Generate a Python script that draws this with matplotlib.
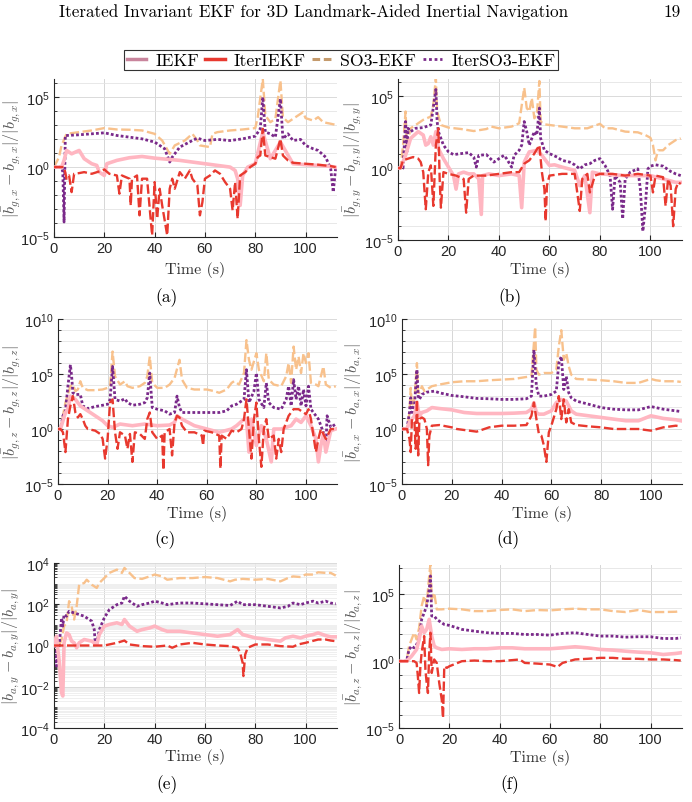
import numpy as np
import matplotlib.pyplot as plt
from matplotlib.lines import Line2D
from matplotlib.ticker import FixedLocator, LogLocator, LogFormatterMathtext, NullFormatter

plt.rcParams['font.family'] = 'Liberation Sans'
plt.rcParams['mathtext.fontset'] = 'cm'
plt.rcParams['axes.unicode_minus'] = False

# each series: (time in s, log10 of relative bias error)
# (a) gyro bias x
a_iekf = [(0, 0), (3, 0), (4, 0.48), (5, 1.19), (7, 0.95), (10, 1.19), (12, 0.6), (15, 0.24), (17, 0.12),
          (18, -0.36), (20, -0.6), (21, 0.24), (25, 0.48), (30, 0.67), (35, 0.76), (40, 0.64), (50, 0.48),
          (60, 0.24), (70, 0), (72, -0.24), (73, -0.83), (74, -2.74), (75, -0.6), (77, 0), (80, 0.24),
          (83, 2.5), (86, 0.6), (90, 1.79), (95, 0.24), (100, 0.17), (105, 0.12), (110, 0.05), (112, -0.02)]
a_iter_iekf = [(0, 0), (4, 0), (5, -0.83), (6, -0.6), (7, -1.79), (8, -0.48), (10, -0.43), (12, -0.36),
               (15, -0.48), (18, -0.31), (20, -0.17), (22, -0.48), (25, -0.6), (26, -1.9), (27, -0.6),
               (30, -0.83), (30.5, -2.74), (31, -0.83), (33, -0.6), (34, -3.45), (35, -0.83), (37, -0.83),
               (39, -4.88), (40, -1.07), (41, -3.69), (42, -1.55), (43, -2.74), (45, -4.88), (46, -1.55),
               (47, -0.83), (48, -1.55), (50, -0.36), (52, -0.83), (54, -0.24), (55, -0.83), (57, -1.31),
               (58, -3.45), (59, -2.5), (60, -0.83), (62, -0.6), (64, -0.24), (66, -0.48), (68, -1.07),
               (70, -1.55), (71, -3.1), (72, -1.07), (73, -3.69), (74, -0.6), (76, -0.36), (78, 0), (80, 0.24),
               (81, 0.71), (82, 0.83), (83, 2.74), (84, 0.83), (86, 0.71), (88, 0.6), (90, 2.02), (91, 0.83),
               (93, 0.48), (95, 0.31), (100, 0.24), (105, 0.17), (110, 0.07), (112, 0)]
a_so3 = [(0, 0), (2, 0.71), (3, 1.55), (5, 2.38), (10, 2.5), (15, 2.62), (20, 2.79), (25, 2.69), (30, 2.67),
         (35, 2.62), (40, 2.38), (43, 1.9), (46, 0.95), (48, 1.55), (52, 1.9), (55, 2.38), (57, 1.9), (58, 1.55),
         (62, 1.43), (63, 2.38), (65, 2.5), (70, 2.62), (75, 2.69), (80, 2.79), (81, 3.57), (83, 6.3), (84, 3.69),
         (86, 3.21), (88, 3.45), (90, 6.2), (91, 3.57), (93, 3.21), (95, 3.45), (99, 3.93), (100, 3.5),
         (103, 3.33), (105, 3.57), (107, 3.21), (110, 3.1), (112, 3.02)]
a_iter_so3 = [(0, 0), (3, 0), (3.5, -0.36), (4, -3.93), (4.5, 2.26), (5, 2.26), (10, 2.31), (15, 2.38), (20, 2.45),
              (25, 2.26), (30, 2.14), (35, 2.02), (40, 1.79), (44, 1.31), (46, 0.36), (47, 0.71), (50, 1.43),
              (55, 1.9), (57, 2.07), (60, 1.9), (65, 1.98), (70, 1.9), (75, 2.02), (80, 2.21), (82, 2.74), (83, 5.0),
              (84, 2.5), (86, 2.38), (88, 2.14), (90, 4.88), (91, 2.02), (93, 2.38), (95, 1.9), (98, 1.98),
              (100, 1.55), (103, 1.31), (105, 1.19), (108, 0.71), (110, -0.12), (111, -1.79), (112, 0)]

# (b) gyro bias y
b_iekf = [(0, 0), (1, 0), (3, 0.89), (5, 2.07), (8, 2.54), (10, 2.3), (11, 1.6), (12, 1.71), (13, 2.18), (14, 1.6),
          (15, 2.54), (16, 1.36), (18, 0.66), (20, 0.07), (22, -0.52), (23, -1.46), (24, -0.4), (26, -0.28),
          (28, -0.4), (30, -0.4), (32, -0.75), (33, -3.22), (33.5, -0.52), (36, -0.4), (40, -0.52), (45, -0.4),
          (48, -0.52), (49, -2.75), (50, 0.42), (52, 1.13), (55, 1.24), (57, 0.89), (60, 0.19), (62, 0.23),
          (65, 0.07), (70, -0.16), (72, -1.22), (74, -0.52), (76, -3.1), (77, -0.28), (80, -0.4), (90, -0.52),
          (100, -0.52), (105, -0.75), (110, -0.99), (112, -0.99)]
b_iter_iekf = [(0, 0), (1, 0), (2, 0.54), (4, 0.66), (6, 0.77), (8, 0.66), (9, 0.42), (10, -0.28), (11, -2.86),
               (12, -0.28), (13, 0.19), (14, -2.63), (15, 1.6), (16, 2.77), (16.5, -0.75), (17, -2.75), (18, -0.28),
               (20, -0.4), (23, -0.52), (26, -0.75), (27, -3.1), (28, -0.75), (30, -0.52), (35, -0.52), (40, -0.4),
               (45, -0.28), (48, -0.28), (50, 0.31), (52, 0.54), (54, 1.01), (56, 1.6), (57, -0.28), (58, -1.46),
               (58.5, -3.69), (59, -1.22), (60, -0.52), (65, -0.4), (70, -0.4), (71, -1.69), (72, -2.98),
               (73, -0.75), (75, -0.4), (76, -1.69), (78, -0.52), (80, -0.4), (85, -0.4), (90, -0.52), (95, -0.4),
               (100, -0.52), (101, -1.69), (102, -0.52), (105, -0.63), (106, -2.63), (107, -0.75), (108, -1.22),
               (109, -4.04), (110, -1.46), (111, -0.99), (112, -1.1)]
b_so3 = [(0, 0), (1, 0), (2, 1.6), (3, 3.94), (3.5, 1.6), (5, 2.77), (8, 3.12), (10, 3.36), (13, 3.59), (14, 4.41),
         (15, 6.29), (15.5, 3.94), (17, 3.0), (20, 2.82), (25, 2.72), (30, 2.58), (35, 2.72), (37, 2.89), (40, 2.77),
         (45, 2.89), (48, 3.12), (50, 5.59), (51, 4.18), (52, 3.94), (53, 4.88), (54, 3.47), (55, 3.71), (56, 6.06),
         (56.5, 3.24), (58, 3.05), (60, 3.0), (65, 2.89), (70, 2.77), (75, 2.77), (80, 3.08), (82, 2.77),
         (85, 2.77), (90, 2.54), (95, 2.49), (98, 2.3), (100, 2.11), (101, 1.6), (102, 0.54), (103, 1.24),
         (105, 1.24), (107, 1.6), (110, 1.95), (112, 2.07)]
b_iter_so3 = [(0, 0), (2, 0), (3, 3.24), (3.5, 1.13), (4, 2.77), (5, 2.54), (7, 2.77), (10, 2.82), (13, 3.0),
              (15, 5.47), (15.5, 3.24), (16, 2.54), (18, 1.6), (20, 1.13), (22, 0.94), (25, 1.01), (28, 1.08),
              (30, 0.77), (31, 0.07), (32, 0.89), (35, 0.94), (38, 0.42), (40, 0.66), (42, 0.89), (43, 0.66),
              (45, 0.07), (46, 0.89), (48, 1.24), (49, 1.6), (50, 3.24), (51, 2.54), (52, 1.6), (53, 2.07),
              (54, 2.54), (55, 2.3), (56, 4.18), (56.5, 2.07), (58, 1.24), (60, 1.01), (63, 0.77), (65, 0.54),
              (68, 0.42), (70, 0.23), (72, -0.05), (74, 0.23), (76, 0.31), (78, 0.54), (80, 0.66), (82, 0.19),
              (84, -0.52), (85, -2.86), (86, -0.52), (88, -0.99), (89, -3.52), (90, -0.75), (92, -0.28),
              (95, -0.05), (96, -1.46), (97, -4.39), (98, -2.63), (99, -0.05), (100, 0.14), (102, 0.23),
              (105, 0.14), (108, -0.23), (110, -0.4), (112, -0.52)]

# (c) gyro bias z
c_iekf = [(0, 0), (1, 0), (3, 1.5), (4, 1.8), (5, 2.99), (6, 2.84), (7, 2.69), (9, 2.1), (10, 1.95), (15, 1.2),
          (18, 0.75), (20, 0.3), (22, 0.15), (25, 0.45), (30, 0.3), (35, 0.45), (40, 0.3), (45, 0.36), (47, 0.6),
          (48, 1.2), (50, 0.9), (55, 0.3), (60, 0), (65, -0.3), (70, 0), (72, 0.3), (75, 0.9), (76, 0.9),
          (77, -2.1), (78, 0.9), (80, -1.5), (82, 0.3), (84, -0.9), (86, -2.99), (87, 0), (90, 0), (94, 0.3),
          (96, 0.9), (98, 0.6), (100, 1.2), (102, 0.3), (104, -0.9), (105, -2.99), (106, -1.5), (107, -0.45),
          (108, -2.1), (110, -0.15), (112, 0)]
c_iter_iekf = [(0, 0), (1, 0), (2, -0.3), (3, -2.1), (4, 0.9), (5, 2.1), (6, 2.99), (7, 1.5), (8, 1.05), (9, 1.35),
               (10, 0.9), (11, 0.3), (12, 0), (15, -0.15), (17, -0.45), (18, -0.9), (19, -2.69), (20, -0.9),
               (21, 2.4), (22, 2.69), (23, -0.3), (24, -1.8), (25, -0.3), (27, -0.6), (28, -1.8), (29, -0.45),
               (30, -2.99), (31, -0.3), (33, -0.45), (35, -0.9), (36, 0.9), (37, 1.5), (38, -0.3), (40, -0.9),
               (42, -0.6), (42.5, -3.74), (43, -0.3), (45, 0), (46, -2.4), (47, 0.6), (48, 1.2), (49, 1.05),
               (50, 0.3), (52, -0.3), (55, -0.3), (58, -0.6), (58.5, -1.5), (59, -0.15), (62, -0.3), (65, -0.6),
               (65.5, -3.59), (66, -0.6), (68, -0.9), (70, -0.15), (72, -0.3), (74, 0), (75, 0.9), (76, 2.69),
               (77, 0), (78, -2.69), (79, 0.9), (80, 2.4), (81, -0.9), (82, -3.44), (83, 0), (84, 0.9), (85, -0.9),
               (87, -0.6), (88, -2.69), (89, -0.9), (90, -2.1), (91, 0), (93, 1.2), (95, 1.8), (97, 1.8), (99, 1.5),
               (100, 1.35), (101, 1.8), (102, 0.9), (103, -0.6), (104, -2.1), (105, -0.9), (106, 0), (108, -0.9),
               (110, 0), (112, 0)]
c_so3 = [(0, 0), (1, 0), (2, 1.2), (3, 2.4), (5, 3.89), (6, 4.04), (7, 3.44), (8, 3.59), (9, 4.34), (10, 3.74),
         (12, 3.53), (15, 3.53), (18, 3.59), (20, 3.74), (21, 3.89), (22, 7.04), (23, 4.79), (25, 4.04), (27, 4.34),
         (28, 3.89), (30, 3.74), (33, 3.89), (35, 4.19), (36, 4.79), (37, 6.59), (38, 4.19), (40, 3.74), (43, 3.74),
         (45, 4.04), (47, 4.64), (49, 6.29), (50, 4.49), (52, 3.74), (55, 3.59), (60, 3.59), (63, 3.44), (65, 3.29),
         (68, 3.59), (70, 4.19), (71, 4.34), (73, 4.04), (75, 5.09), (76, 8.08), (77, 6.29), (78, 5.39), (80, 6.89),
         (81, 5.39), (83, 4.34), (84, 6.89), (85, 4.49), (87, 4.04), (90, 3.89), (92, 4.79), (93, 5.99), (94, 4.19),
         (95, 7.49), (96, 5.39), (97, 6.59), (98, 5.09), (99, 6.89), (100, 5.99), (101, 6.89), (102, 4.19),
         (104, 4.04), (105, 3.89), (107, 5.69), (108, 4.04), (110, 3.74), (112, 3.89)]
c_iter_so3 = [(0, 0), (1, 0), (2, 1.2), (3, 1.65), (4, 3.89), (5, 5.84), (5.5, 4.79), (6, 3.29), (7, 3.14), (9, 3.14),
              (10, 2.1), (12, 1.86), (15, 2.04), (18, 2.16), (20, 2.25), (21, 2.69), (22, 5.69), (23, 2.69),
              (25, 2.54), (27, 2.75), (28, 2.4), (30, 2.16), (33, 2.25), (35, 2.4), (36, 2.84), (37, 5.09), (38, 1.95),
              (40, 1.8), (43, 1.65), (45, 1.35), (47, 1.5), (48, 2.99), (49, 1.95), (50, 1.5), (55, 1.5), (60, 1.5),
              (65, 1.5), (68, 1.65), (70, 2.1), (72, 2.25), (75, 2.69), (76, 5.39), (77, 2.4), (79, 3.44), (80, 5.09),
              (81, 2.69), (83, 1.95), (84, 4.19), (85, 2.4), (87, 1.95), (90, 1.8), (92, 2.69), (93, 3.89), (94, 2.1),
              (95, 4.49), (96, 2.69), (97, 3.89), (98, 2.1), (99, 3.59), (100, 2.1), (101, 3.89), (102, 1.8),
              (104, 1.2), (105, 0.9), (107, -0.3), (108, -1.8), (108.5, 1.2), (110, 0.15), (112, 0.45)]

# (d) accel bias x
d_iekf = [(0, 0), (2, 0), (3, 0.6), (5, 1.2), (6, 2.4), (7, 1.2), (8, 1.5), (10, 1.65), (12, 1.95), (15, 1.86),
          (20, 1.74), (25, 1.5), (30, 1.41), (35, 1.41), (40, 1.41), (45, 1.44), (50, 1.5), (52, 1.8), (53, 2.4),
          (54, 1.5), (55, 1.35), (57, 1.35), (60, 1.65), (62, 2.4), (64, 2.69), (66, 2.54), (68, 1.65), (70, 1.35),
          (75, 1.2), (80, 1.05), (85, 0.9), (90, 0.75), (95, 0.75), (100, 1.2), (105, 0.96), (110, 0.84),
          (112, 0.75)]
d_iter_iekf = [(0, 0), (2, 0), (3, -0.9), (3.5, -2.1), (4, 0.9), (5, 0.6), (5.5, -1.8), (6, 2.69), (6.5, -2.4),
               (7, 0.9), (8, 1.05), (9, 0.9), (10, 0), (10.5, -3.29), (11, -0.6), (12, 0.3), (15, 0.36), (20, 0.15),
               (22, 0), (25, -0.09), (30, -0.24), (35, 0.15), (40, 0.3), (45, 0.3), (50, 0.36), (52, 1.2), (53, 2.4),
               (54, 0.9), (55, -0.45), (56, -0.6), (57, -1.5), (58, -2.99), (59, -0.3), (60, 0.3), (62, 1.8),
               (63, 2.99), (64, 0.9), (65, 2.69), (66, 0.6), (67, 1.8), (68, 0.6), (70, 0.36), (75, 0.24), (80, 0.15),
               (85, 0), (90, 0), (95, 0), (100, -0.15), (105, 0.15), (110, 0.3), (112, 0.24)]
d_so3 = [(0, 0), (2, 0), (3, 1.5), (3.5, 3.74), (4, 2.1), (5, 2.69), (6, 5.99), (6.5, 3.29), (7, 3.29), (8, 3.89),
         (9, 3.44), (10, 3.59), (12, 3.89), (15, 4.04), (20, 4.25), (25, 4.34), (30, 4.34), (35, 4.43), (40, 4.49),
         (45, 4.55), (50, 4.73), (52, 4.79), (53, 7.78), (53.5, 9.28), (54, 5.39), (55, 4.94), (57, 5.09), (60, 5.09),
         (62, 5.39), (63, 7.49), (64, 8.98), (65, 6.29), (66, 6.89), (67, 5.69), (68, 4.94), (70, 4.55), (75, 4.49),
         (80, 4.43), (85, 4.34), (90, 4.19), (95, 4.19), (100, 4.55), (102, 4.43), (105, 4.34), (110, 4.34),
         (112, 4.28)]
d_iter_so3 = [(0, 0), (2, 0), (3, 1.5), (3.5, 2.84), (4, 1.5), (5, 2.1), (6, 5.39), (6.5, 2.99), (7, 2.69), (8, 3.14),
              (10, 3.35), (13, 3.44), (15, 3.29), (20, 3.05), (25, 2.93), (30, 2.78), (35, 2.75), (40, 2.69),
              (45, 2.69), (50, 2.75), (52, 2.99), (53, 7.19), (54, 3.89), (55, 2.99), (57, 2.99), (60, 3.14),
              (62, 3.44), (63, 5.99), (64, 6.59), (65, 3.59), (66, 4.79), (67, 3.29), (68, 2.84), (70, 2.54),
              (75, 2.25), (80, 1.95), (85, 1.8), (90, 1.74), (95, 1.74), (100, 2.04), (105, 1.8), (110, 1.65),
              (112, 1.59)]

# (e) accel bias y
e_iekf = [(0, 0), (1, 0.45), (1.5, -0.19), (2, -0.68), (3, -2.29), (3.5, -2.45), (4, 0.13), (5, 0.61), (6, 0.53),
          (7, 0.21), (8, 0.13), (9, -0.11), (10, 0.13), (12, 0.29), (15, 0.21), (17, 0.05), (18, 0.53), (20, 0.94),
          (22, 1.02), (25, 1.1), (27, 1.02), (28, 1.26), (30, 0.94), (33, 0.69), (35, 0.77), (38, 0.85), (40, 0.94),
          (43, 0.77), (45, 0.69), (50, 0.69), (55, 0.61), (60, 0.53), (65, 0.45), (70, 0.53), (73, 0.77),
          (75, 0.53), (80, 0.37), (85, 0.29), (90, 0.21), (92, 0.37), (95, 0.45), (98, 0.37), (100, 0.45),
          (103, 0.53), (105, 0.61), (108, 0.48), (110, 0.42), (112, 0.42)]
e_iter_iekf = [(0, 0), (5, 0), (10, 0), (15, 0), (20, 0), (25, 0.13), (28, 0.24), (30, 0.05), (35, -0.03),
               (40, -0.06), (45, 0), (47, -0.11), (50, 0.05), (55, 0.13), (60, 0.05), (65, 0), (70, -0.03),
               (73, -0.11), (74, -0.35), (75, -0.84), (75.3, -1.48), (76, -0.44), (77, -0.11), (80, 0.05),
               (85, 0.05), (90, -0.03), (95, -0.06), (97, 0.05), (100, 0.13), (105, 0.29), (108, 0.29),
               (110, 0.24), (112, 0.21)]
e_so3 = [(0, 0), (1, 0.29), (2, 0), (3, 0.29), (4, 0.94), (5, 1.1), (6, 2.15), (7, 1.9), (8, 1.26), (9, 1.9),
         (10, 2.95), (12, 3.03), (13, 3.19), (15, 2.95), (17, 2.79), (18, 3.03), (20, 3.27), (22, 3.52), (25, 3.68),
         (27, 3.52), (28, 3.76), (30, 3.52), (32, 3.27), (35, 3.23), (38, 3.35), (40, 3.44), (43, 3.35), (45, 3.19),
         (50, 3.27), (55, 3.27), (60, 3.32), (65, 3.27), (70, 3.11), (72, 3.19), (75, 3.23), (80, 3.19), (85, 3.23),
         (90, 3.11), (93, 3.27), (95, 3.35), (98, 3.32), (100, 3.44), (103, 3.44), (105, 3.55), (108, 3.52),
         (110, 3.52), (112, 3.39)]
e_iter_so3 = [(0, 0), (1, -1.0), (1.5, 0), (2, -0.11), (3, 1.34), (3.5, 0.94), (4, 1.5), (5, 1.42), (6, 1.66),
              (8, 1.58), (10, 1.5), (12, 1.42), (15, 1.18), (16, 0.77), (16.5, -0.03), (17, 0.05), (18, 0.77),
              (20, 1.34), (22, 1.74), (25, 1.98), (27, 2.06), (28, 2.39), (30, 2.15), (33, 1.9), (35, 1.98),
              (38, 2.06), (40, 2.15), (43, 2.06), (45, 1.98), (50, 2.06), (55, 2.06), (60, 2.02), (65, 1.98),
              (70, 1.94), (73, 2.15), (75, 1.98), (80, 1.98), (85, 1.9), (90, 1.82), (93, 1.9), (95, 2.06),
              (98, 1.98), (100, 2.06), (103, 2.15), (105, 2.06), (108, 2.15), (110, 2.06), (112, 2.02)]

# (f) accel bias z
f_iekf = [(0, 0), (3, 0), (5, 0.38), (7, 0.88), (8, 1.63), (9, 2.63), (10, 2.13), (11, 2.38), (12, 3.13), (13, 1.88),
          (14, 1.13), (15, 1.0), (17, 0.88), (20, 0.93), (25, 0.88), (30, 0.93), (35, 0.93), (40, 1.0), (45, 1.0),
          (50, 0.93), (55, 0.93), (60, 0.93), (65, 1.0), (70, 1.08), (75, 1.0), (80, 0.88), (85, 0.83), (90, 0.75),
          (95, 0.68), (100, 0.63), (105, 0.5), (110, 0.58), (112, 0.63)]
f_iter_iekf = [(0, 0), (6, 0), (7, -0.13), (7.5, -1.13), (8, -2.38), (8.5, -0.38), (9, 0.63), (10, 1.88),
               (10.5, -0.63), (11, -1.63), (11.5, -2.38), (12, 0.63), (12.5, 2.13), (13, -0.88), (14, 0.13),
               (15, -0.13), (16, -1.63), (17, -2.88), (17.5, -4.25), (18, -0.38), (19, -0.5), (20, -0.38),
               (25, 0), (30, 0.05), (35, 0), (40, 0), (45, 0.08), (48, 0.13), (50, -0.13), (55, -0.18), (60, -0.25),
               (63, -0.43), (65, -0.13), (70, 0.13), (75, 0.18), (80, 0.25), (85, 0.25), (90, 0.18), (95, 0.18),
               (100, 0.13), (105, 0.13), (110, 0.08), (112, 0.05)]
f_so3 = [(0, 0), (3, 0), (4, 1.13), (5, 1.63), (6, 2.13), (7, 1.63), (8, 2.5), (9, 4.13), (10, 4.88), (11, 4.25),
         (12, 6.38), (12.5, 7.25), (13, 4.63), (14, 5.13), (15, 3.88), (17, 3.88), (20, 3.93), (25, 3.88),
         (30, 3.75), (35, 3.75), (40, 3.83), (45, 3.88), (50, 3.75), (55, 3.83), (60, 3.8), (65, 3.88), (70, 3.93),
         (75, 3.88), (80, 3.88), (85, 3.75), (90, 3.68), (95, 3.83), (100, 3.68), (105, 3.68), (110, 3.7),
         (112, 3.75)]
f_iter_so3 = [(0, 0), (3, 0), (4, 0.88), (5, 1.13), (6, 1.0), (7, 1.25), (8, 1.63), (9, 3.13), (10, 3.63), (11, 4.13),
              (12, 5.38), (12.5, 6.38), (13, 3.38), (14, 3.38), (15, 3.13), (18, 2.75), (20, 2.68), (25, 2.38),
              (30, 2.25), (35, 2.13), (40, 2.08), (45, 2.08), (50, 2.0), (55, 2.0), (60, 1.95), (65, 2.08),
              (70, 2.13), (75, 2.0), (80, 1.88), (85, 1.88), (90, 1.8), (95, 1.83), (100, 1.83), (105, 1.7),
              (110, 1.7), (112, 1.75)]

filters = ['IEKF', 'IterIEKF', 'SO3-EKF', 'IterSO3-EKF']
ylabels = [r'$|\bar{b}_{g,x}-b_{g,x}|/|b_{g,x}|$', r'$|\bar{b}_{g,y}-b_{g,y}|/|b_{g,y}|$',
           r'$|\bar{b}_{g,z}-b_{g,z}|/|b_{g,z}|$', r'$|\bar{b}_{a,x}-b_{a,x}|/|b_{a,x}|$',
           r'$|\bar{b}_{a,y}-b_{a,y}|/|b_{a,y}|$', r'$|\bar{b}_{a,z}-b_{a,z}|/|b_{a,z}|$']
captions = ['(a)', '(b)', '(c)', '(d)', '(e)', '(f)']
panels = [(a_iekf, a_iter_iekf, a_so3, a_iter_so3), (b_iekf, b_iter_iekf, b_so3, b_iter_so3),
          (c_iekf, c_iter_iekf, c_so3, c_iter_so3), (d_iekf, d_iter_iekf, d_so3, d_iter_so3),
          (e_iekf, e_iter_iekf, e_so3, e_iter_so3), (f_iekf, f_iter_iekf, f_so3, f_iter_so3)]

W, H = 692, 803
# axes boxes in pixels: left, top, right, bottom
boxes = [(54, 80, 337, 238), (398, 80, 682, 241), (58, 320, 337, 485),
         (402, 320, 682, 485), (54, 564, 337, 729), (399, 566, 682, 729)]
ylims = [(1e-5, 10**6.3), (1e-5, 10**6.2), (1e-5, 1e10), (1e-5, 1e10), (1e-4, 1e4), (1e-5, 10**7.2)]
ylab_x = [22, 363, 22, 364, 21, 364]      # right edge of the rotated y label
xlab_gap = [24, 21, 21, 21, 20, 21]       # gap from axis to top of the x label
cap_pos = [(167, 298), (510, 298), (165, 540), (508, 540), (167, 785), (510, 785)]

line_colors = ['#ffb6c1', '#e8392f', '#f8c18c', '#7a2a8a']
line_styles = ['-', (0, (4, 1.5)), (0, (4, 1.5)), (0, (1, 0.8))]
line_widths = [2.6, 1.7, 1.7, 2.0]
zorders = [3, 4, 1, 2]

fig = plt.figure(figsize=(W / 100, H / 100), dpi=100)

for i, (series, box) in enumerate(zip(panels, boxes)):
    l, t, r, b = box
    ax = fig.add_axes([l / W, 1 - b / H, (r - l) / W, (b - t) / H])
    for k in [2, 3, 0, 1]:
        tt, vv = np.array(series[k]).T
        ax.plot(tt, 10.0 ** vv, color=line_colors[k], ls=line_styles[k], lw=line_widths[k],
                zorder=zorders[k])
    ax.set_yscale('log')
    ax.set_xlim(0, 112.5)
    ax.set_ylim(*ylims[i])
    ax.set_xticks([0, 20, 40, 60, 80, 100])
    lo, hi = np.log10(ylims[i])
    if i == 4:
        ax.yaxis.set_major_locator(FixedLocator([1e-4, 1e-2, 1e0, 1e2, 1e4]))
        ax.yaxis.set_minor_locator(LogLocator(base=10, subs=np.arange(1, 10), numticks=30))
        minor_grid = '#ececec'
    else:
        ax.yaxis.set_major_locator(FixedLocator([10.0 ** p for p in [-5, 0, 5, 10] if p <= hi]))
        ax.yaxis.set_minor_locator(FixedLocator([10.0 ** p for p in range(-5, int(hi) + 1)]))
        minor_grid = '#e4e4e4'
    ax.yaxis.set_major_formatter(LogFormatterMathtext())
    ax.yaxis.set_minor_formatter(NullFormatter())
    ax.grid(True, which='major', axis='x', color='#d6d6d6', lw=0.7)
    ax.grid(True, which='major', axis='y', color='#dadada', lw=0.7)
    ax.grid(True, which='minor', axis='y', color=minor_grid, lw=0.6)
    ax.set_axisbelow(True)
    for s in ['top', 'right']:
        ax.spines[s].set_visible(False)
    for s in ['left', 'bottom']:
        ax.spines[s].set_color('#262626')
        ax.spines[s].set_linewidth(0.8)
    ax.tick_params(which='both', direction='in', colors='#262626', labelsize=10.5, pad=3)
    ax.tick_params(which='major', length=3.5)
    ax.tick_params(which='minor', length=2)
    ax.set_xlabel('Time (s)', fontfamily='cmr10', fontsize=11.5, color='#333333')
    ax.xaxis.set_label_coords(0.5, -xlab_gap[i] / (b - t))
    ax.set_ylabel(ylabels[i], fontsize=11.5, color='#555555')
    ax.yaxis.set_label_coords((ylab_x[i] - l) / (r - l), 0.5)
    fig.text(cap_pos[i][0] / W, 1 - cap_pos[i][1] / H, captions[i], fontfamily='cmr10', fontsize=12.5,
             ha='center', va='center')

fig.text(314 / W, 1 - 12 / H, 'Iterated Invariant EKF for 3D Landmark-Aided Inertial Navigation',
         fontfamily='cmr10', fontsize=12.3, ha='center', va='center')
fig.text(681 / W, 1 - 12 / H, '19', fontfamily='cmr10', fontsize=12.3, ha='right', va='center')

handles = [Line2D([], [], color='#c8849c', lw=2.5, ls='-'),
           Line2D([], [], color='#e8392f', lw=2.5, ls='-'),
           Line2D([], [], color='#c49a6c', lw=2.2, ls=(0, (2.5, 1.2))),
           Line2D([], [], color='#7a2a8a', lw=2.0, ls=(0, (1, 1)))]
leg = fig.legend(handles, filters, loc='center', bbox_to_anchor=(341 / W, 1 - 61 / H), ncol=4,
                 frameon=True, fancybox=False, edgecolor='#333333', framealpha=1,
                 prop={'family': 'cmr10', 'size': 12.8}, handlelength=1.1, handletextpad=0.5,
                 columnspacing=0.35, borderpad=0.15, borderaxespad=0)
leg.get_frame().set_linewidth(0.8)

fig.savefig('out.png', dpi=100)
